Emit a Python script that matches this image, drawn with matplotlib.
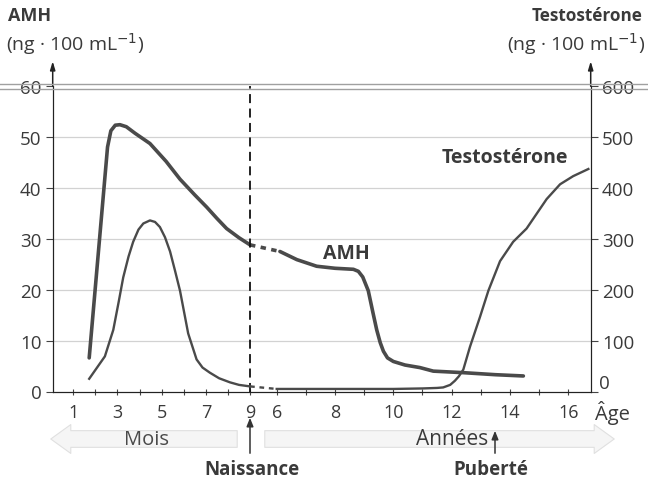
import matplotlib.pyplot as plt
import numpy as np
from matplotlib.lines import Line2D
from matplotlib.patches import FancyArrowPatch

plt.rcParams['font.family'] = ['Open Sans', 'DejaVu Sans']

# --- data ---
# months (before birth, fetal) on the left part, years on the right part
mois_ticks = [1, 2, 3, 4, 5, 6, 7, 8, 9]
mois_labels = ['1', '', '3', '', '5', '', '7', '', '9']
annees_ticks = [6, 7, 8, 9, 10, 11, 12, 13, 14, 15, 16]
annees_labels = ['6', '', '8', '', '10', '', '12', '', '14', '', '16']

amh_mois_x = [1.72, 2.55, 2.7, 2.9, 3.11, 3.4, 3.8, 4.47, 5.2, 5.83, 6.5, 7.04, 7.5, 7.94, 8.5, 9.0]
amh_mois_y = [6.6, 48.0, 51.2, 52.3, 52.4, 52.0, 50.7, 48.7, 45.2, 41.7, 38.6, 36.2, 34.0, 32.0, 30.2, 28.8]
amh_annees_x = [6.11, 6.69, 7.37, 8.0, 8.63, 8.8, 8.95, 9.14, 9.3, 9.43, 9.55, 9.66, 9.8, 10.0, 10.4, 10.91, 11.37, 12.4, 13.5, 14.46]
amh_annees_y = [27.5, 25.9, 24.6, 24.2, 24.0, 23.6, 22.5, 19.8, 15.5, 12.1, 9.6, 7.9, 6.6, 5.9, 5.2, 4.7, 4.0, 3.7, 3.3, 3.05]

testo_mois_x = [1.72, 2.43, 2.81, 3.05, 3.26, 3.5, 3.71, 3.95, 4.17, 4.47, 4.7, 4.92, 5.15, 5.38, 5.6, 5.83, 6.2, 6.58, 6.85, 7.18, 7.6, 8.09, 8.5, 9.0]
testo_mois_y = [25, 69, 121, 175, 224, 265, 294, 318, 330, 336, 333, 323, 303, 275, 238, 198, 114, 63, 47, 37, 26, 18, 13, 10]
testo_annees_x = [6.0, 8.0, 10.0, 11.0, 11.5, 11.71, 11.95, 12.11, 12.25, 12.4, 12.63, 12.97, 13.26, 13.66, 14.11, 14.57, 15.26, 15.72, 16.17, 16.69]
testo_annees_y = [5, 5, 5, 6, 7, 8, 13, 21, 30, 43, 88, 146, 198, 256, 294, 320, 378, 407, 423, 437]

amh_ticks = [0, 10, 20, 30, 40, 50, 60]
testo_ticks = [0, 100, 200, 300, 400, 500, 600]


def yr(y):
    # position of a year on the shared axis (in month units)
    return 9 + 1.208 + (np.asarray(y, dtype=float) - 6) * 1.3195


fig = plt.figure(figsize=(6.48, 4.85), dpi=100)
ax = fig.add_axes([52.7 / 648, 1 - 392.5 / 485, (590.7 - 52.7) / 648, (392.5 - 87) / 485])
ax2 = ax.twinx()

line_col = '#4a4a4a'
txt_col = '#3a3a3a'

ax.set_xlim(0.068, float(yr(16.77)))
ax.set_ylim(0, 60)
ax2.set_ylim(0, 600)

# grid
for v in amh_ticks[1:-1]:
    ax.axhline(v, color='#d2d2d2', lw=0.9, zorder=0)

# AMH (thick)
ax.plot(amh_mois_x, amh_mois_y, color=line_col, lw=2.6, solid_capstyle='round')
ax.plot(yr(amh_annees_x), amh_annees_y, color=line_col, lw=2.6, solid_capstyle='round')
ax.plot([amh_mois_x[-1], float(yr(amh_annees_x[0]))], [amh_mois_y[-1], amh_annees_y[0]],
        color=line_col, lw=2.6, ls=(0, (1.5, 1.5)))

# Testosterone (thinner)
ax2.plot(testo_mois_x, testo_mois_y, color=line_col, lw=1.7)
ax2.plot(yr(testo_annees_x), testo_annees_y, color=line_col, lw=1.7)
ax2.plot([testo_mois_x[-1], float(yr(testo_annees_x[0]))], [testo_mois_y[-1], testo_annees_y[0]],
         color=line_col, lw=1.7, ls=(0, (2, 2)))

# birth line
ax.axvline(9, color='#111111', lw=1.3, ls=(0, (5, 3)))

# spines & ticks
for a in (ax, ax2):
    a.spines['top'].set_visible(False)
    for s in ('left', 'right', 'bottom'):
        a.spines[s].set_color('#222222')
ax.set_yticks(amh_ticks)
ax2.set_yticks(testo_ticks)
# the right "0" sits a bit higher in the original, drawn separately below
ax2.set_yticklabels([''] + [str(t) for t in testo_ticks[1:]])
ax.tick_params(axis='y', length=5, pad=3, labelsize=13.5, labelcolor=txt_col, color='#444')
ax2.tick_params(axis='y', length=5, pad=3, labelsize=13.5, labelcolor=txt_col, color='#444')
fig.text(599 / 648, 1 - 384 / 485, '0', fontsize=13.5, color=txt_col, va='center', ha='left')

xt = list(mois_ticks) + list(yr(annees_ticks))
xl = mois_labels + annees_labels
ax.set_xticks(xt)
ax.set_xticklabels(xl)
ax.tick_params(axis='x', length=4, direction='inout', pad=6, labelsize=13, labelcolor=txt_col, color='#444')

# axis arrows upward
for xf in (0, 1):
    ax.annotate('', xy=(xf, 1.09), xytext=(xf, 0.99), xycoords='axes fraction',
                arrowprops=dict(arrowstyle='-|>,head_length=0.5,head_width=0.15', color='#222', lw=1.1))

# double rule across the page at the top
for yp in (85, 90):
    fig.add_artist(Line2D([0, 1], [1 - yp / 485, 1 - yp / 485], color='#a0a0a0', lw=1.0))

# axis titles
fig.text(8 / 648, 1 - 16 / 485, 'AMH', fontsize=13, fontweight='bold', color=txt_col, va='center')
fig.text(6 / 648, 1 - 44 / 485, '(ng · 100 mL$^{-1}$)', fontsize=14, color=txt_col, va='center')
fig.text(643 / 648, 1 - 16 / 485, 'Testostérone', fontsize=12.3, fontweight='bold', color=txt_col,
         va='center', ha='right')
fig.text(645 / 648, 1 - 44 / 485, '(ng · 100 mL$^{-1}$)', fontsize=14, color=txt_col, va='center', ha='right')

# curve labels
fig.text(346 / 648, 1 - 254 / 485, 'AMH', fontsize=14, fontweight='bold', color=txt_col, ha='center', va='center')
fig.text(505 / 648, 1 - 158 / 485, 'Testostérone', fontsize=14, fontweight='bold', color=txt_col,
         ha='center', va='center')
fig.text(612 / 648, 1 - 413 / 485, 'Âge', fontsize=14.5, color=txt_col, ha='center', va='center')

# bottom bands
band = dict(arrowstyle='simple,head_width=1.3,head_length=0.9,tail_width=0.75',
            fc='#f5f5f5', ec='#e0e0e0', lw=0.8, mutation_scale=16, zorder=2)
fig.add_artist(FancyArrowPatch((240, 485 - 440), (48, 485 - 440), transform=None, **band))
fig.add_artist(FancyArrowPatch((262, 485 - 440), (617, 485 - 440), transform=None, **band))
fig.text(147 / 648, 1 - 440 / 485, 'Mois', fontsize=14.5, color='#4a4a4a', ha='center', va='center', zorder=3)
fig.text(452 / 648, 1 - 440 / 485, 'Années', fontsize=15, color='#3a3a3a', ha='center', va='center', zorder=3)

# birth and puberty pointers
up = dict(arrowstyle='-|>,head_length=5,head_width=2', color='#333', lw=1.1, transform=None, zorder=4)
fig.add_artist(FancyArrowPatch((250, 485 - 457), (250, 485 - 416), **up))
fig.add_artist(FancyArrowPatch((495, 485 - 457), (495, 485 - 429), **up))
fig.text(252 / 648, 1 - 470 / 485, 'Naissance', fontsize=13.5, fontweight='bold', color=txt_col,
         ha='center', va='center')
fig.text(491 / 648, 1 - 470 / 485, 'Puberté', fontsize=13.5, fontweight='bold', color=txt_col,
         ha='center', va='center')

fig.savefig('out.png', dpi=100)
